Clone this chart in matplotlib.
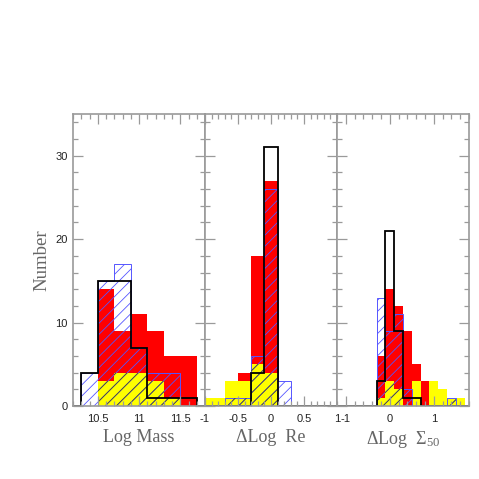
"""Three-panel stacked histograms: Log Mass, Delta Log Re, Delta Log Sigma50."""

import matplotlib

matplotlib.use("Agg")
import matplotlib.pyplot as plt
import numpy as np
from matplotlib.ticker import FixedLocator, MultipleLocator

# Panel 1: Log Mass
MASS_EDGES = [10.3, 10.5, 10.7, 10.9, 11.1, 11.3, 11.5, 11.7]
MASS_RED = [0, 14, 9, 11, 9, 6, 6]
MASS_YELLOW = [0, 3, 4, 4, 3, 1, 0]
MASS_BLUE = [4, 15, 17, 7, 4, 4, 0]
MASS_BLACK = [4, 15, 15, 7, 1, 1, 1]

# Panel 2: Delta Log Re
RE_EDGES = [-1.1, -0.9, -0.7, -0.5, -0.3, -0.1, 0.1, 0.3]
RE_RED = [1, 1, 3, 4, 18, 27, 0]
RE_YELLOW = [1, 1, 3, 3, 5, 4, 0]
RE_BLUE = [0, 0, 1, 1, 6, 26, 3]
RE_BLACK = [0, 0, 0, 0, 4, 31, 0]

# Panel 3: Delta Log Sigma50
SIG_EDGES = [-0.3, -0.1, 0.1, 0.3, 0.5, 0.7, 0.9, 1.1, 1.3, 1.5, 1.7]
SIG_RED = [6, 14, 12, 9, 5, 3, 3, 2, 1, 1]
SIG_YELLOW = [1, 3, 2, 0, 3, 0, 3, 2, 1, 1]
SIG_BLUE = [13, 9, 11, 2, 0, 0, 0, 0, 1, 0]
SIG_BLACK = [3, 21, 9, 1, 1, 0, 0, 0, 0, 0]

PANELS = [
    {
        "edges": MASS_EDGES, "red": MASS_RED, "yellow": MASS_YELLOW,
        "blue": MASS_BLUE, "black": MASS_BLACK,
        "xlim": (10.2, 11.8), "major": [10.5, 11.0, 11.5], "minor": 0.1,
        "labels": ["10.5", "11", "11.5"], "xlabel": "Log Mass",
    },
    {
        "edges": RE_EDGES, "red": RE_RED, "yellow": RE_YELLOW,
        "blue": RE_BLUE, "black": RE_BLACK,
        "xlim": (-1.0, 1.0), "major": [-1.0, -0.5, 0.0, 0.5, 1.0], "minor": 0.1,
        "labels": ["-1", "-0.5", "0", "0.5", "1"], "xlabel": "\u0394Log  Re",
    },
    {
        "edges": SIG_EDGES, "red": SIG_RED, "yellow": SIG_YELLOW,
        "blue": SIG_BLUE, "black": SIG_BLACK,
        "xlim": (-1.2, 1.8), "major": [-1.0, 0.0, 1.0], "minor": 0.2,
        "labels": ["-1", "0", "1"], "xlabel": "\u0394Log  \u03a3$_{50}$",
    },
]

AXIS_GRAY = "#9a9a9a"
LABEL_GRAY = "#666666"
SERIF = "Liberation Serif"

plt.rcParams.update(
    {
        "font.family": "Liberation Sans",
        "mathtext.fontset": "custom",
        "mathtext.rm": SERIF,
        "mathtext.it": SERIF + ":italic",
        "hatch.linewidth": 0.6,
    }
)

fig = plt.figure(figsize=(4.79, 4.79), dpi=100)
left, bottom, width, height = 73 / 479, 1 - 406 / 479, 132 / 479, 292 / 479

for index, panel in enumerate(PANELS):
    ax = fig.add_axes([left + index * width, bottom, width, height])
    edges = np.array(panel["edges"])
    red = np.array(panel["red"])
    yellow = np.array(panel["yellow"])
    blue = np.array(panel["blue"])
    black = np.array(panel["black"])

    ax.stairs(red, edges, fill=True, color="#ff0000", linewidth=0)
    ax.stairs(yellow, edges, fill=True, color="#ffff00", linewidth=0)
    ax.stairs(blue, edges, fill=True, facecolor="none", edgecolor="#5555ff",
              hatch="///", linewidth=0.7)
    ax.stairs(np.minimum(blue, yellow), edges, fill=True, facecolor="none",
              edgecolor="#4a4a30", hatch="///", linewidth=0)

    # black outline runs across the whole panel, zeros included
    lo, hi = panel["xlim"]
    full_edges = np.concatenate([[lo - 0.5], edges, [hi + 0.5]])
    full_black = np.concatenate([[0], black, [0]])
    ax.stairs(full_black, full_edges, color="black", linewidth=1.3, baseline=None)

    ax.set_xlim(lo, hi)
    ax.set_ylim(0, 35)
    ax.xaxis.set_major_locator(FixedLocator(panel["major"]))
    ax.xaxis.set_minor_locator(MultipleLocator(panel["minor"]))
    ax.yaxis.set_major_locator(MultipleLocator(10))
    ax.yaxis.set_minor_locator(MultipleLocator(2))
    ax.set_xticklabels(panel["labels"])
    ax.tick_params(which="both", direction="in", top=True, right=True,
                   color=AXIS_GRAY, width=0.9, labelsize=8, labelcolor="#222222")
    ax.tick_params(which="major", length=7)
    ax.tick_params(axis="x", which="major", pad=6)
    ax.tick_params(axis="y", which="major", pad=4)
    ax.tick_params(which="minor", length=3.5)
    if index > 0:
        ax.tick_params(labelleft=False)
    for spine in ax.spines.values():
        spine.set_color(AXIS_GRAY)
        spine.set_linewidth(1.2)
    ax.set_xlabel(panel["xlabel"], family=SERIF, fontsize=13,
                  color=LABEL_GRAY, labelpad=3)
    if index == 0:
        ax.set_ylabel("Number", family=SERIF, fontsize=13.5,
                      color=LABEL_GRAY, labelpad=3)

fig.savefig("out.png", dpi=100)
